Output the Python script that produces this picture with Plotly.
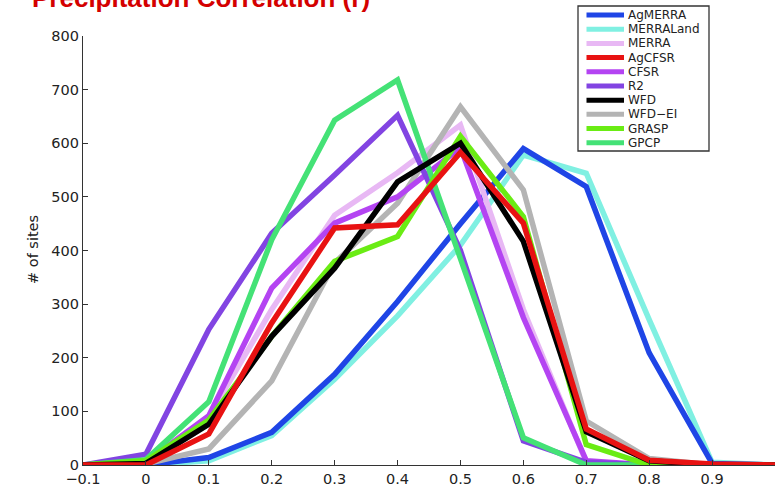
import plotly.graph_objects as go

# ---- data ----
x_vals = [-0.1, 0.0, 0.1, 0.2, 0.3, 0.4, 0.5, 0.6, 0.7, 0.8, 0.9, 1.0]

ag_merra   = [0, 0, 14, 61, 169, 305, 450, 590, 519, 209, 3, 0]
merra_land = [0, 0, 8, 55, 160, 278, 410, 578, 544, 271, 5, 0]
merra      = [0, 5, 90, 290, 466, 545, 634, 290, 5, 0, 0, 0]
ag_cfsr    = [0, 0, 58, 265, 442, 448, 583, 451, 67, 9, 2, 0]
cfsr       = [0, 5, 92, 330, 451, 500, 592, 275, 8, 0, 0, 0]
r2         = [0, 20, 253, 432, 541, 652, 400, 45, 5, 0, 0, 0]
wfd        = [0, 3, 76, 240, 367, 528, 600, 417, 62, 8, 0, 0]
wfd_ei     = [0, 2, 30, 157, 377, 488, 668, 513, 82, 12, 0, 0]
grasp      = [0, 8, 84, 240, 380, 426, 613, 463, 38, 0, 0, 0]
gpcp       = [0, 10, 118, 420, 643, 718, 385, 51, 0, 0, 0, 0]

series_names = ["AgMERRA", "MERRALand", "MERRA", "AgCFSR", "CFSR",
                "R2", "WFD", "WFD\u2212EI", "GRASP", "GPCP"]
series_values = [ag_merra, merra_land, merra, ag_cfsr, cfsr,
                 r2, wfd, wfd_ei, grasp, gpcp]
series_colors = ["#1f45e6", "#80f0e2", "#e8b8f4", "#e81212", "#b444f2",
                 "#8244e2", "#000000", "#b4b4b4", "#6aec14", "#44e276"]

x_tick_vals = [-0.1, 0.0, 0.1, 0.2, 0.3, 0.4, 0.5, 0.6, 0.7, 0.8, 0.9]
x_tick_text = ["\u22120.1", "0", "0.1", "0.2", "0.3", "0.4", "0.5", "0.6", "0.7", "0.8", "0.9"]
y_tick_vals = [0, 100, 200, 300, 400, 500, 600, 700, 800]

title_text = "Precipitation Correlation (r)"
y_title = "# of sites"

# drawing order (bottom -> top)
draw_order = [1, 0, 2, 7, 4, 5, 9, 8, 6, 3]

# ---- layout geometry (pixels) ----
W_PX, H_PX = 782, 491
L, R, T, B = 83, 775, 36, 465
PW, PH = R - L, B - T

def xp(px):
    return (px - L) / PW

def yp(py):
    return (B - py) / PH

FONT = "DejaVu Sans, Verdana, sans-serif"
TITLE_FONT = "Liberation Sans, Arial, Helvetica, sans-serif"

fig = go.Figure()
for idx in draw_order:
    fig.add_trace(go.Scatter(
        x=x_vals, y=series_values[idx], mode="lines",
        name=series_names[idx],
        line=dict(color=series_colors[idx], width=5.5),
        cliponaxis=False, showlegend=False,
    ))

shapes = []
annotations = []

# legend box
shapes.append(dict(type="rect", xref="paper", yref="paper",
                   x0=xp(578), x1=xp(709), y0=yp(151), y1=yp(6),
                   line=dict(color="#333333", width=1.3), fillcolor="white",
                   layer="above"))
row0, step = 15.0, 14.19
for i, (nm, col) in enumerate(zip(series_names, series_colors)):
    ypx = row0 + step * i
    shapes.append(dict(type="line", xref="paper", yref="paper",
                       x0=xp(586.5), x1=xp(624), y0=yp(ypx), y1=yp(ypx),
                       line=dict(color=col, width=5), layer="above"))
    annotations.append(dict(xref="paper", yref="paper", x=xp(626), y=yp(ypx),
                            text=nm, showarrow=False, xanchor="left", yanchor="middle",
                            font=dict(family=FONT, size=12, color="#222222")))

# cut-off title
annotations.append(dict(xref="paper", yref="paper", x=xp(30), y=yp(-2.5),
                        text="<b>" + title_text + "</b>", showarrow=False,
                        xanchor="left", yanchor="middle",
                        font=dict(family=TITLE_FONT, size=26, color="#d40000")))

# y-axis title
annotations.append(dict(xref="paper", yref="paper", x=xp(33), y=yp(249),
                        text=y_title, showarrow=False, textangle=-90,
                        xanchor="center", yanchor="middle",
                        font=dict(family=FONT, size=14.5, color="#222222")))

fig.update_layout(
    width=W_PX, height=H_PX,
    margin=dict(l=L, r=W_PX - R, t=T, b=H_PX - B, pad=0, autoexpand=False),
    paper_bgcolor="white", plot_bgcolor="white",
    font=dict(family=FONT, size=14, color="#222222"),
    shapes=shapes, annotations=annotations,
    showlegend=False,
)
fig.update_xaxes(
    range=[-0.1, 1.0], tickmode="array", tickvals=x_tick_vals, ticktext=x_tick_text,
    ticks="inside", ticklen=5, tickcolor="#333333", tickwidth=1,
    showline=True, linecolor="#333333", linewidth=1.2,
    showgrid=False, zeroline=False, tickfont=dict(size=14.5), automargin=False,
)
fig.update_yaxes(
    range=[0, 800], tickmode="array", tickvals=y_tick_vals,
    ticks="inside", ticklen=5, tickcolor="#333333", tickwidth=1,
    showline=True, linecolor="#333333", linewidth=1.2,
    showgrid=False, zeroline=False, tickfont=dict(size=14.5), automargin=False,
)

fig.write_html(
    "out.html",
    config={"displayModeBar": False},
    post_script="document.body.style.margin='0';document.body.style.padding='0';"
                "document.body.style.overflow='hidden';",
)
